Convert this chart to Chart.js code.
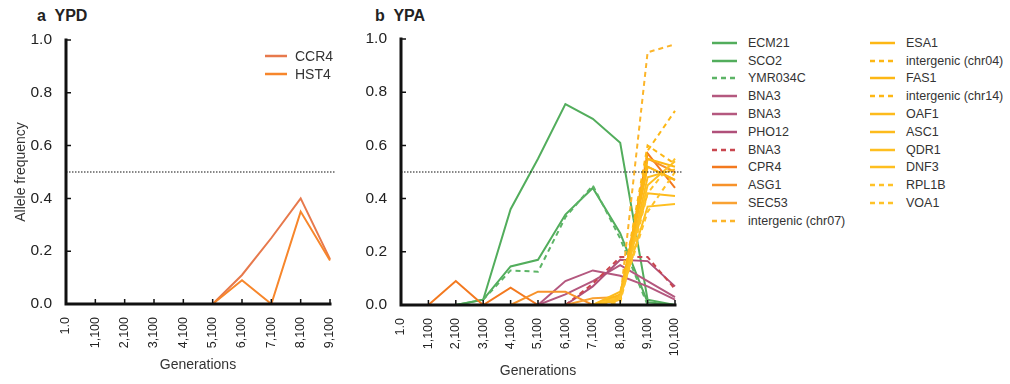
<!DOCTYPE html>
<html>
<head>
<meta charset="utf-8">
<script src="https://cdn.jsdelivr.net/npm/chart.js@4.4.1/dist/chart.umd.min.js"></script>
<style>
  body { margin: 0; width: 1010px; height: 384px; background: #fff; position: relative; overflow: hidden;
         font-family: "Liberation Sans", Arial, sans-serif; color: #333; }
  .panel { position: absolute; top: 0; height: 384px; }
  .ptitle { position: absolute; top: 7px; font-weight: bold; font-size: 16px; color: #222; white-space: pre; }
  .legend { position: absolute; color: #333; }
  .legend .row { display: flex; align-items: center; white-space: nowrap; }
</style>
</head>
<body>
<div class="ptitle" style="left:37px">a  YPD</div>
<div class="ptitle" style="left:375px">b  YPA</div>
<div class="panel" style="left:0;width:350px"><canvas id="ypd"></canvas></div>
<div class="panel" style="left:350px;width:345px"><canvas id="ypa"></canvas></div>
<div class="legend" id="legYPD" style="left:265px;top:47px;font-size:14px"></div>
<div class="legend" id="legYPA1" style="left:712px;top:34px;font-size:12.5px"></div>
<div class="legend" id="legYPA2" style="left:870px;top:34px;font-size:12.5px"></div>
<script>
// x categories (generations)
const gensYPD = ['1.0', '1,100', '2,100', '3,100', '4,100', '5,100', '6,100', '7,100', '8,100', '9,100'];
const gensYPA = ['1.0', '1,100', '2,100', '3,100', '4,100', '5,100', '6,100', '7,100', '8,100', '9,100', '10,100'];
const threshold = 0.5;

// panel a: YPD
const ccr4 = [null, null, null, null, null, 0, 0.11, 0.25, 0.40, 0.17];
const hst4 = [null, null, null, null, null, 0, 0.09, 0, 0.35, 0.165];

// panel b: YPA
const ecm21   = [null, null, 0, 0.02, 0.36, 0.55, 0.755, 0.70, 0.61, 0.02, 0];
const sco2    = [null, null, 0, 0.02, 0.145, 0.17, 0.34, 0.44, 0.27, 0.01, 0];
const ymr034c = [null, null, null, 0.02, 0.13, 0.125, 0.33, 0.45, 0.25, 0, null];
const bna3a   = [null, null, null, null, null, 0, 0.09, 0.13, 0.11, 0.07, 0.02];
const bna3b   = [null, null, null, null, null, 0, 0.04, 0.09, 0.15, 0.09, 0.03];
const pho12   = [null, null, null, null, null, null, 0, 0.07, 0.17, 0.165, 0.07];
const bna3c   = [null, null, null, null, null, null, 0, 0.08, 0.18, 0.18, 0.06];
const cpr4    = [null, 0, 0.09, 0, 0.065, 0, 0, 0, 0.02, 0.57, 0.44];
const asg1    = [null, null, null, null, 0, 0.05, 0.05, 0, 0.03, 0.55, 0.50];
const sec53   = [null, null, null, null, null, null, 0, 0.025, 0.03, 0.52, 0.47];
const chr07   = [null, null, null, null, null, null, null, 0, 0.02, 0.95, 0.98];
const esa1    = [null, null, null, null, null, null, null, 0, 0.03, 0.55, 0.52];
const chr04   = [null, null, null, null, null, null, null, 0, 0.02, 0.58, 0.73];
const fas1    = [null, null, null, null, null, null, null, 0, 0.04, 0.52, 0.47];
const chr14   = [null, null, null, null, null, null, null, 0, 0.03, 0.60, 0.53];
const oaf1    = [null, null, null, null, null, null, null, 0, 0.02, 0.48, 0.51];
const asc1    = [null, null, null, null, null, null, null, 0, 0.05, 0.42, 0.41];
const qdr1    = [null, null, null, null, null, null, null, 0, 0.03, 0.37, 0.38];
const dnf3    = [null, null, null, null, null, null, null, 0, 0.02, 0.45, 0.54];
const rpl1b   = [null, null, null, null, null, null, null, 0, 0.01, 0.42, 0.55];
const voa1    = [null, null, null, null, null, null, null, 0, 0.03, 0.35, 0.50];

const GREEN = '#52ad5c', MAUVE = '#b4587f', YEL = '#fdb714';

const seriesYPD = [
  {label: 'CCR4', data: ccr4, color: '#e7794c'},
  {label: 'HST4', data: hst4, color: '#f7862b'}
];
const seriesYPA = [
  {label: 'ECM21', data: ecm21, color: GREEN},
  {label: 'SCO2', data: sco2, color: GREEN},
  {label: 'YMR034C', data: ymr034c, color: '#5cb466', dash: true},
  {label: 'BNA3', data: bna3a, color: MAUVE},
  {label: 'BNA3', data: bna3b, color: MAUVE},
  {label: 'PHO12', data: pho12, color: '#b0507a'},
  {label: 'BNA3', data: bna3c, color: '#c9474f', dash: true},
  {label: 'CPR4', data: cpr4, color: '#f3791f'},
  {label: 'ASG1', data: asg1, color: '#f7922a'},
  {label: 'SEC53', data: sec53, color: '#f9a233'},
  {label: 'intergenic (chr07)', data: chr07, color: '#fcb52a', dash: true},
  {label: 'ESA1', data: esa1, color: YEL},
  {label: 'intergenic (chr04)', data: chr04, color: YEL, dash: true},
  {label: 'FAS1', data: fas1, color: YEL},
  {label: 'intergenic (chr14)', data: chr14, color: YEL, dash: true},
  {label: 'OAF1', data: oaf1, color: '#fdbb1c'},
  {label: 'ASC1', data: asc1, color: '#fdbb1c'},
  {label: 'QDR1', data: qdr1, color: '#febf20'},
  {label: 'DNF3', data: dnf3, color: '#febf20'},
  {label: 'RPL1B', data: rpl1b, color: '#ffc228', dash: true},
  {label: 'VOA1', data: voa1, color: '#ffc228', dash: true}
];

const DASH = [5, 4];

// thick axes, inward tick marks and dotted 0.5 line
const extras = {
  id: 'extras',
  afterDatasetsDraw(chart, args, opts) {
    const {ctx, chartArea: a, scales: {x, y}} = chart;
    ctx.save();
    ctx.strokeStyle = '#111';
    ctx.lineWidth = 3;
    ctx.lineCap = 'square';
    ctx.beginPath();
    ctx.moveTo(a.left, a.top);
    ctx.lineTo(a.left, a.bottom);
    ctx.lineTo(a.right, a.bottom);
    ctx.stroke();
    ctx.lineWidth = 1.5;
    ctx.lineCap = 'butt';
    ctx.beginPath();
    x.ticks.forEach((t, i) => { const px = x.getPixelForTick(i); ctx.moveTo(px, a.bottom); ctx.lineTo(px, a.bottom - 5); });
    y.ticks.forEach((t, i) => { const py = y.getPixelForTick(i); ctx.moveTo(a.left, py); ctx.lineTo(a.left + 5, py); });
    ctx.stroke();
    const ty = y.getPixelForValue(threshold);
    ctx.setLineDash([1.5, 1.5]);
    ctx.lineWidth = 1.2;
    ctx.strokeStyle = '#111';
    ctx.beginPath();
    ctx.moveTo(a.left, ty);
    ctx.lineTo(a.right + opts.extend, ty);
    ctx.stroke();
    ctx.restore();
  }
};

function makePanel(id, labels, series, o) {
  const datasets = series.map((s, i) => ({
    label: s.label,
    data: s.data,
    borderColor: s.color,
    borderWidth: 2,
    borderDash: s.dash ? DASH : [],
    pointRadius: 0,
    tension: 0,
    order: -i
  }));
  return new Chart(document.getElementById(id), {
    type: 'line',
    data: {labels, datasets},
    plugins: [extras],
    options: {
      responsive: true,
      maintainAspectRatio: false,
      animation: false,
      events: [],
      layout: {padding: o.padding},
      plugins: {
        legend: {display: false},
        tooltip: {enabled: false},
        extras: {extend: o.extend}
      },
      scales: {
        x: {
          type: 'category',
          offset: false,
          afterFit: s => { s.height = o.xHeight; },
          grid: {display: false},
          border: {display: false},
          ticks: {autoSkip: false, minRotation: 90, maxRotation: 90, padding: 5,
                  color: '#222', font: {family: 'Liberation Sans', size: 12.5}},
          title: {display: true, text: 'Generations', color: '#333',
                  font: {family: 'Liberation Sans', size: 14}, padding: {top: 0, bottom: o.xTitlePad}}
        },
        y: {
          min: 0,
          max: 1,
          afterFit: s => { s.width = o.yWidth; },
          grid: {display: false},
          border: {display: false},
          ticks: {stepSize: 0.2, padding: 6, color: '#222',
                  font: {family: 'Liberation Sans', size: 15.5},
                  callback: v => v.toFixed(1)},
          title: {display: o.yTitle, text: 'Allele frequency', color: '#333',
                  font: {family: 'Liberation Sans', size: 14}, padding: {top: 13, bottom: 0}}
        }
      }
    }
  });
}

function makeLegend(id, series, rowH, sampleW, gap) {
  const box = document.getElementById(id);
  series.forEach(s => {
    const row = document.createElement('div');
    row.className = 'row';
    row.style.height = rowH + 'px';
    const dash = s.dash ? ' stroke-dasharray="' + DASH.join(',') + '"' : '';
    row.innerHTML = '<svg width="' + sampleW + '" height="6" style="margin-right:' + gap + 'px">' +
      '<line x1="0" y1="3" x2="' + sampleW + '" y2="3" stroke="' + s.color + '" stroke-width="2.5"' + dash + '/></svg>' +
      '<span>' + s.label + '</span>';
    box.appendChild(row);
  });
}

makePanel('ypd', gensYPD, seriesYPD,
  {padding: {top: 40, right: 10, left: 0, bottom: 0}, yWidth: 66, xHeight: 80, xTitlePad: 10, yTitle: true, extend: 6});
makePanel('ypa', gensYPA, seriesYPA,
  {padding: {top: 39, right: 17, left: 0, bottom: 0}, yWidth: 51, xHeight: 79, xTitlePad: 4, yTitle: false, extend: 7});

makeLegend('legYPD', seriesYPD, 18, 22, 8);
makeLegend('legYPA1', seriesYPA.slice(0, 11), 17.8, 25, 11);
makeLegend('legYPA2', seriesYPA.slice(11), 17.8, 25, 11);
</script>
</body>
</html>
